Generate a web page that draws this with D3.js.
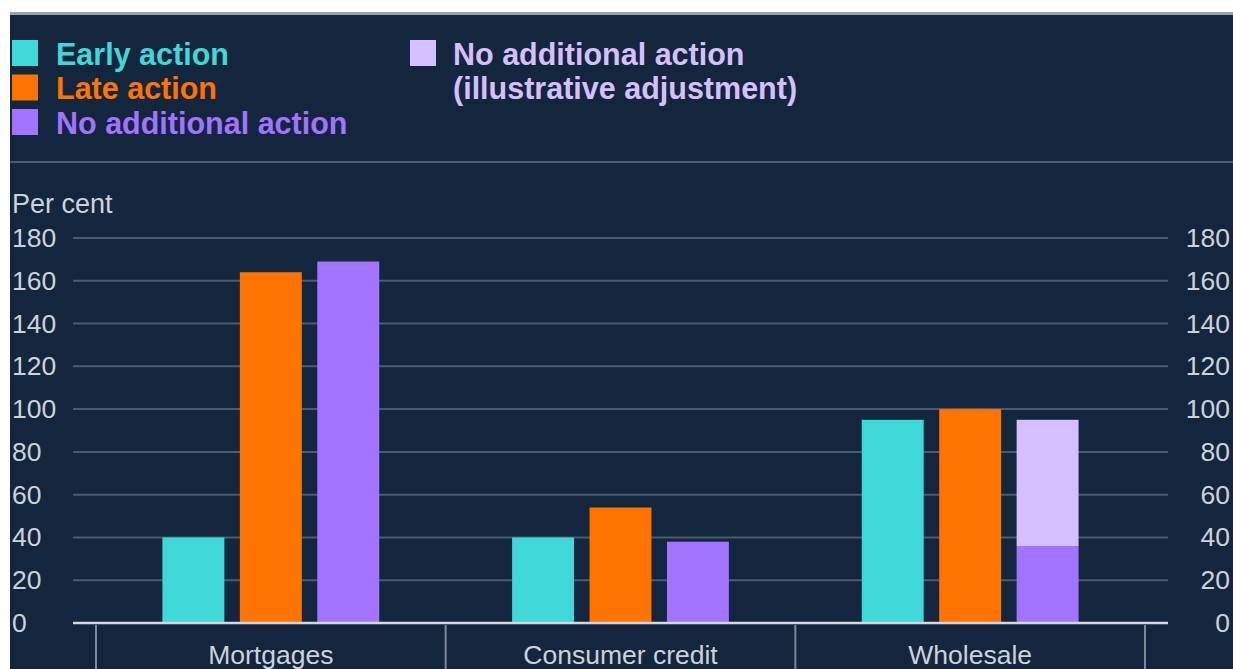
<!DOCTYPE html>
<html>
<head>
<meta charset="utf-8">
<script src="https://cdn.jsdelivr.net/npm/d3@7"></script>
<style>
  html, body { margin: 0; padding: 0; background: #ffffff; }
  svg { display: block; font-family: "Liberation Sans", Arial, sans-serif; }
</style>
</head>
<body>
<svg id="chart" width="1233" height="669"></svg>
<script>
// ---- Data ----
const categories = ["Mortgages", "Consumer credit", "Wholesale"];
const seriesNames = ["Early action", "Late action", "No additional action"];
const earlyAction = [40, 40, 95];
const lateAction = [164, 54, 100];
const noAdditionalAction = [169, 38, 36];
const illustrativeAdjustment = [0, 0, 59];
const yTicks = [0, 20, 40, 60, 80, 100, 120, 140, 160, 180];
const legendLeft = ["Early action", "Late action", "No additional action"];
const legendRight = ["No additional action", "(illustrative adjustment)"];

const colors = {
  early: "#3ed8d9",
  late: "#ff7300",
  none: "#a273ff",
  adj: "#d5bfff"
};
const bg = "#14263e";
const textCol = "#cdd2d9";

const svg = d3.select("#chart");
const W = 1233, H = 669;

// background panel
svg.append("rect").attr("x", 0).attr("y", 0).attr("width", W).attr("height", H).attr("fill", "#ffffff");
svg.append("rect").attr("x", 10).attr("y", 12).attr("width", W - 10).attr("height", H - 12).attr("fill", bg);
svg.append("rect").attr("x", 10).attr("y", 12).attr("width", W - 10).attr("height", 3).attr("fill", "#9aa2ad");
svg.append("rect").attr("x", 10).attr("y", 161).attr("width", W - 10).attr("height", 2).attr("fill", "#4d5d70");

// ---- Legend ----
const legL = svg.append("g");
const legLColors = [colors.early, colors.late, colors.none];
legendLeft.forEach((t, i) => {
  const cy = 53 + i * 34.5;
  legL.append("rect").attr("x", 12).attr("y", cy - 13).attr("width", 26).attr("height", 26).attr("fill", legLColors[i]);
  legL.append("text").attr("x", 56).attr("y", cy + 11.5).attr("fill", legLColors[i])
    .attr("font-size", 30.5).attr("font-weight", "bold").text(t);
});
svg.append("rect").attr("x", 410).attr("y", 40).attr("width", 26).attr("height", 26).attr("fill", colors.adj);
legendRight.forEach((t, i) => {
  svg.append("text").attr("x", 453).attr("y", 64.5 + i * 34.5).attr("fill", colors.adj)
    .attr("font-size", 30.5).attr("font-weight", "bold").text(t);
});

// ---- Scales ----
const x = d3.scaleBand().domain(categories).range([96, 1145]).paddingInner(0).paddingOuter(0);
const xi = d3.scaleBand().domain(["early", "late", "none"]).range([0, x.bandwidth()])
  .paddingInner(0.2).paddingOuter(0.858);
const y = d3.scaleLinear().domain([0, 180]).range([623, 238]);

// gridlines
svg.append("g").selectAll("line").data(yTicks.filter(d => d > 0)).join("line")
  .attr("x1", 73).attr("x2", 1168)
  .attr("y1", d => y(d)).attr("y2", d => y(d))
  .attr("stroke", "#4b5a6d").attr("stroke-width", 2);

// left axis labels
const leftAxis = d3.axisLeft(y).tickValues(yTicks).tickSize(0).tickPadding(0);
const gl = svg.append("g").attr("transform", "translate(12,0)").call(leftAxis);
gl.select(".domain").remove();
gl.selectAll("text").attr("text-anchor", "start").attr("x", 0).attr("fill", textCol)
  .attr("font-size", 26.5).attr("font-family", "Liberation Sans, Arial, sans-serif");

// right axis labels
const rightAxis = d3.axisRight(y).tickValues(yTicks).tickSize(0).tickPadding(0);
const gr = svg.append("g").attr("transform", "translate(1230,0)").call(rightAxis);
gr.select(".domain").remove();
gr.selectAll("text").attr("text-anchor", "end").attr("x", 0).attr("fill", textCol)
  .attr("font-size", 26.5).attr("font-family", "Liberation Sans, Arial, sans-serif");

// "Per cent"
svg.append("text").attr("x", 12).attr("y", 213).attr("fill", textCol).attr("font-size", 27).text("Per cent");

// ---- Bars ----
const rows = categories.map((c, i) => ({
  cat: c, early: earlyAction[i], late: lateAction[i], none: noAdditionalAction[i], adj: illustrativeAdjustment[i]
}));
const groups = svg.append("g").selectAll("g").data(rows).join("g")
  .attr("transform", d => `translate(${x(d.cat)},0)`);

groups.append("rect").attr("x", xi("early")).attr("width", xi.bandwidth())
  .attr("y", d => y(d.early)).attr("height", d => y(0) - y(d.early)).attr("fill", colors.early);
groups.append("rect").attr("x", xi("late")).attr("width", xi.bandwidth())
  .attr("y", d => y(d.late)).attr("height", d => y(0) - y(d.late)).attr("fill", colors.late);
groups.append("rect").attr("x", xi("none")).attr("width", xi.bandwidth())
  .attr("y", d => y(d.none)).attr("height", d => y(0) - y(d.none)).attr("fill", colors.none);
groups.filter(d => d.adj > 0).append("rect").attr("x", xi("none")).attr("width", xi.bandwidth())
  .attr("y", d => y(d.none + d.adj)).attr("height", d => y(d.none) - y(d.none + d.adj)).attr("fill", colors.adj);

// baseline
svg.append("line").attr("x1", 73).attr("x2", 1168).attr("y1", y(0)).attr("y2", y(0))
  .attr("stroke", "#d3d7dc").attr("stroke-width", 2.5);

// category dividers
const edges = categories.map(c => x(c)).concat([x(categories[categories.length - 1]) + x.bandwidth()]);
svg.append("g").selectAll("line").data(edges).join("line")
  .attr("x1", d => d).attr("x2", d => d).attr("y1", y(0) + 2).attr("y2", H)
  .attr("stroke", "#7d8795").attr("stroke-width", 2);

// category labels
svg.append("g").selectAll("text").data(categories).join("text")
  .attr("x", d => x(d) + x.bandwidth() / 2).attr("y", 664)
  .attr("text-anchor", "middle").attr("fill", textCol).attr("font-size", 26.5).text(d => d);
</script>
</body>
</html>
